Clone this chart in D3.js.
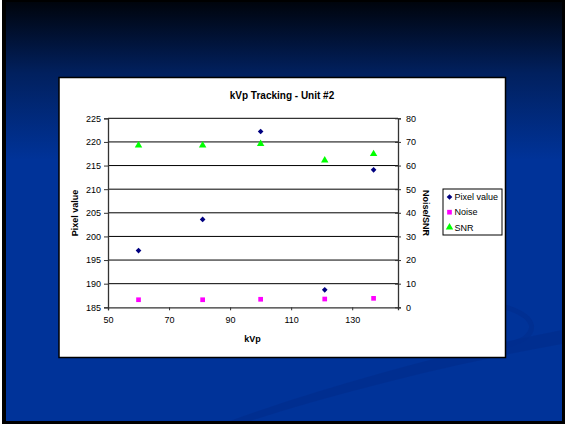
<!DOCTYPE html>
<html>
<head>
<meta charset="utf-8">
<script src="https://cdn.jsdelivr.net/npm/d3@7/dist/d3.min.js"></script>
<style>
  html, body { margin: 0; padding: 0; background: #ffffff; }
  svg { display: block; }
  text { font-family: "Liberation Sans", Arial, sans-serif; }
</style>
</head>
<body>
<svg id="slide" width="565" height="426"></svg>
<script>
// kVp settings measured for Unit #2
const kvp = [60, 81, 100, 121, 137];
// Mean pixel value (left axis)
const pixelValue = [197.0, 203.6, 222.2, 188.7, 214.1];
// Noise and SNR (right axis)
const noise = [3.2, 3.2, 3.4, 3.5, 3.8];
const snr = [68.6, 68.6, 69.2, 62.2, 64.9];

const xTicks = [50, 70, 90, 110, 130];
const yLeftTicks = [185, 190, 195, 200, 205, 210, 215, 220, 225];
const yRightTicks = [0, 10, 20, 30, 40, 50, 60, 70, 80];

const svg = d3.select("#slide");

// Slide background
const defs = svg.append("defs");
const grad = defs.append("linearGradient")
  .attr("id", "bg").attr("gradientUnits", "userSpaceOnUse")
  .attr("x1", 0).attr("y1", 2).attr("x2", 0).attr("y2", 160);
grad.append("stop").attr("offset", 0).attr("stop-color", "#00040c");
grad.append("stop").attr("offset", 0.45).attr("stop-color", "#01205e");
grad.append("stop").attr("offset", 1).attr("stop-color", "#003399");

svg.append("rect").attr("x", 2).attr("y", 0).attr("width", 563).attr("height", 424).attr("fill", "#000000");
svg.append("rect").attr("x", 6).attr("y", 2).attr("width", 556).attr("height", 419).attr("fill", "url(#bg)");

// Decorative swooshes at the lower right
svg.append("path")
  .attr("d", "M230,421 C330,385 450,352 562,330 L562,344 C450,364 330,395 250,421 Z")
  .attr("fill", "#002d8e").attr("opacity", 0.75);
svg.append("path")
  .attr("d", "M440,300 C520,300 545,322 525,338 C510,348 470,352 430,356")
  .attr("fill", "none").attr("stroke", "#002d8e").attr("stroke-width", 5).attr("opacity", 0.7);

// Chart box
svg.append("rect")
  .attr("x", 59).attr("y", 77.5).attr("width", 446.5).attr("height", 280)
  .attr("fill", "#ffffff").attr("stroke", "#000000").attr("stroke-width", 1.5);

const plot = { left: 108, right: 398, top: 118.3, bottom: 307.3 };

const x = d3.scaleLinear().domain([50, 145]).range([plot.left, plot.right]);
const yL = d3.scaleLinear().domain([185, 225]).range([plot.bottom, plot.top]);
const yR = d3.scaleLinear().domain([0, 80]).range([plot.bottom, plot.top]);

// Horizontal gridlines
svg.append("g").selectAll("line").data(yLeftTicks.slice(1)).join("line")
  .attr("x1", plot.left).attr("x2", plot.right)
  .attr("y1", d => yL(d)).attr("y2", d => yL(d))
  .attr("stroke", "#000000").attr("stroke-width", 1);

const fontSize = "9px";

// Left axis
const axL = svg.append("g").attr("transform", `translate(${plot.left},0)`)
  .call(d3.axisLeft(yL).tickValues(yLeftTicks).tickSize(4).tickPadding(3));
// Right axis
const axR = svg.append("g").attr("transform", `translate(${plot.right},0)`)
  .call(d3.axisRight(yR).tickValues(yRightTicks).tickSize(3).tickPadding(5));
axR.selectAll(".tick line").attr("x1", -3);
// Bottom axis
const axB = svg.append("g").attr("transform", `translate(0,${plot.bottom})`)
  .call(d3.axisBottom(x).tickValues(xTicks).tickSize(3).tickPadding(6));

[axL, axR, axB].forEach(a => {
  a.select(".domain").attr("stroke", "#333333").attr("stroke-width", 1.3);
  a.selectAll(".tick line").attr("stroke", "#333333");
  a.selectAll(".tick text").attr("font-size", fontSize).attr("fill", "#000000")
    .attr("font-family", "Liberation Sans, Arial, sans-serif");
});

// Title and axis titles
svg.append("text").attr("x", 282).attr("y", 98.5).attr("text-anchor", "middle")
  .attr("font-size", "10px").attr("font-weight", "bold").text("kVp Tracking - Unit #2");
svg.append("text").attr("x", 252.5).attr("y", 341.5).attr("text-anchor", "middle")
  .attr("font-size", "9px").attr("font-weight", "bold").text("kVp");
svg.append("text").attr("transform", "translate(78,213) rotate(-90)").attr("text-anchor", "middle")
  .attr("font-size", "9px").attr("font-weight", "bold").text("Pixel value");
svg.append("text").attr("transform", "translate(423,213) rotate(90)").attr("text-anchor", "middle")
  .attr("font-size", "9px").attr("font-weight", "bold").text("Noise/SNR");

// Marker shapes: a square-proportioned diamond, a square and a triangle
const rhombus = {
  draw(ctx, size) {
    const r = Math.sqrt(size / 2);
    ctx.moveTo(0, -r); ctx.lineTo(r, 0); ctx.lineTo(0, r); ctx.lineTo(-r, 0); ctx.closePath();
  }
};
const diamond = d3.symbol().type(rhombus).size(16);
const square = d3.symbol().type(d3.symbolSquare).size(22);
const triangle = d3.symbol().type(d3.symbolTriangle).size(24);

const marks = svg.append("g");
marks.selectAll(".snr").data(kvp).join("path").attr("class", "snr")
  .attr("d", triangle)
  .attr("transform", (d, i) => `translate(${x(d)},${yR(snr[i])})`)
  .attr("fill", "#00ff00");
marks.selectAll(".noise").data(kvp).join("path").attr("class", "noise")
  .attr("d", square)
  .attr("transform", (d, i) => `translate(${x(d)},${yR(noise[i])})`)
  .attr("fill", "#ff00ff");
marks.selectAll(".pix").data(kvp).join("path").attr("class", "pix")
  .attr("d", diamond)
  .attr("transform", (d, i) => `translate(${x(d)},${yL(pixelValue[i])})`)
  .attr("fill", "#000080");

// Legend
const legend = svg.append("g");
legend.append("rect").attr("x", 443).attr("y", 189).attr("width", 59).attr("height", 46)
  .attr("fill", "#ffffff").attr("stroke", "#000000").attr("stroke-width", 1);
const legendItems = [
  { label: "Pixel value", shape: diamond, color: "#000080" },
  { label: "Noise", shape: square, color: "#ff00ff" },
  { label: "SNR", shape: triangle, color: "#00ff00" }
];
legendItems.forEach((it, i) => {
  const cy = 197 + i * 15.2;
  legend.append("path").attr("d", it.shape).attr("fill", it.color)
    .attr("transform", `translate(449.5,${cy})`);
  legend.append("text").attr("x", 454.5).attr("y", cy + 3.2)
    .attr("font-size", "9px").attr("fill", "#000000").text(it.label);
});
</script>
</body>
</html>
